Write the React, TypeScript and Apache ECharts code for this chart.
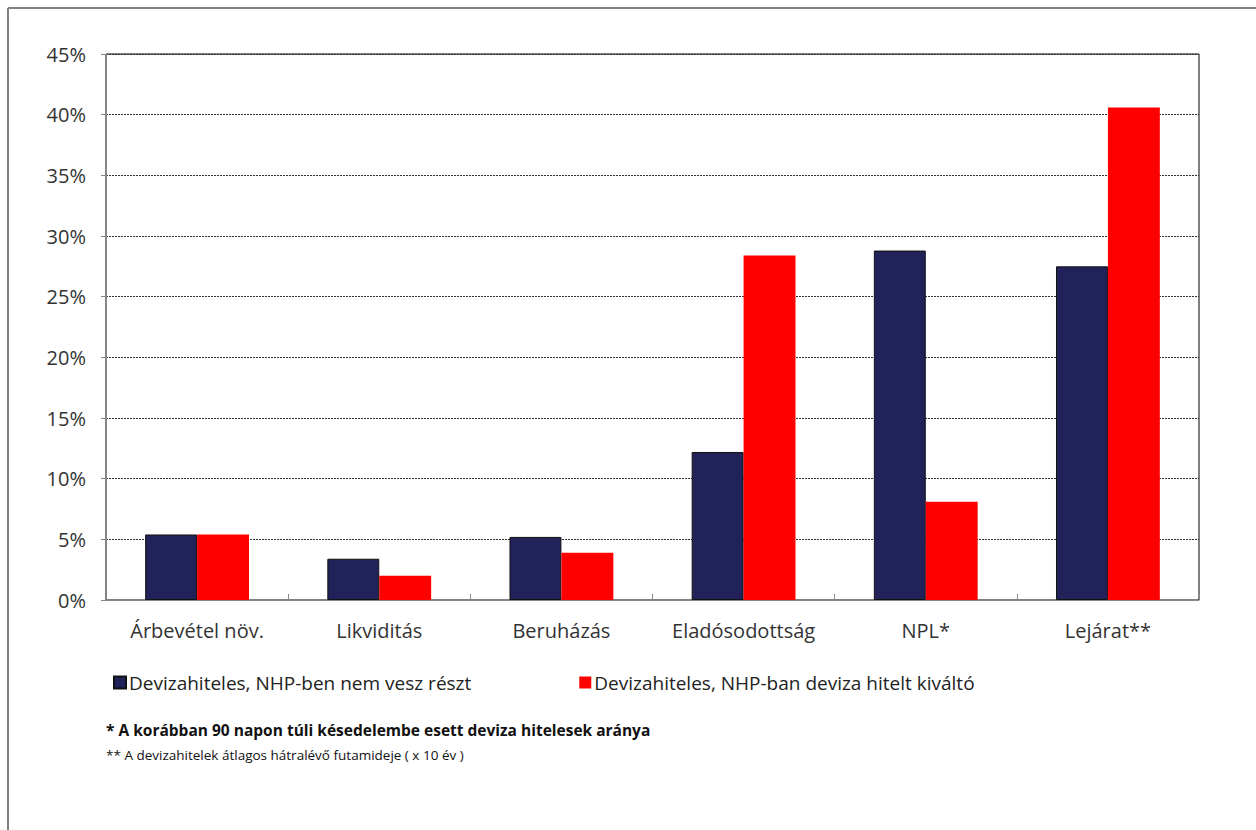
import React, { useEffect, useRef } from "react";
import * as echarts from "echarts";

const categories = ["Árbevétel növ.", "Likviditás", "Beruházás", "Eladósodottság", "NPL*", "Lejárat**"];
const seriesNames = ["Devizahiteles, NHP-ben nem vesz részt", "Devizahiteles, NHP-ban deviza hitelt kiváltó"];
const navyValues = [5.4, 3.4, 5.2, 12.2, 28.8, 27.5];
const redValues = [5.4, 2.0, 3.9, 28.4, 8.1, 40.6];
const footnotes = [
  "* A korábban 90 napon túli késedelembe esett deviza hitelesek aránya",
  "** A devizahitelek átlagos hátralévő futamideje ( x 10 év )",
];

const FONT = "'Open Sans', 'Noto Sans', sans-serif";

export default function App() {
  const ref = useRef<HTMLDivElement>(null);
  useEffect(() => {
    if (!ref.current) return;
    const chart = echarts.init(ref.current, null, { renderer: "svg" });
    chart.setOption({
      animation: false,
      backgroundColor: "#ffffff",
      grid: {
        left: 106,
        right: 57,
        top: 54,
        bottom: 230,
        show: true,
        borderColor: "#000000",
        borderWidth: 1,
        containLabel: false,
      },
      legend: {
        left: 108,
        top: 668,
        itemWidth: 12,
        itemHeight: 12,
        itemGap: 108,
        icon: "rect",
        textStyle: { fontFamily: FONT, fontSize: 19, color: "#222", padding: [0, 0, 0, -2] },
        data: seriesNames,
      },
      xAxis: {
        type: "category",
        data: categories,
        axisLine: { lineStyle: { color: "#888", width: 1 } },
        axisTick: { show: true, inside: true, length: 6, lineStyle: { color: "#888" } },
        axisLabel: { fontFamily: FONT, fontSize: 20, color: "#333", margin: 20, interval: 0 },
      },
      yAxis: {
        type: "value",
        min: 0,
        max: 45,
        interval: 5,
        axisLine: { show: true, lineStyle: { color: "#888", width: 1 } },
        axisTick: { show: true, length: 5, lineStyle: { color: "#888" } },
        axisLabel: {
          fontFamily: FONT,
          fontSize: 20,
          color: "#333",
          margin: 20,
          formatter: (v: number) => v + "%",
        },
        splitLine: { show: true, lineStyle: { color: "#333", type: [2, 1], width: 1 } },
      },
      series: [
        {
          name: seriesNames[0],
          type: "bar",
          data: navyValues,
          barGap: "0%",
          barCategoryGap: "43%",
          itemStyle: { color: "#22225a", borderColor: "#111", borderWidth: 1 },
        },
        {
          name: seriesNames[1],
          type: "bar",
          data: redValues,
          barGap: "0%",
          barCategoryGap: "43%",
          itemStyle: { color: "#ff0000" },
        },
      ],
      graphic: [
        { type: "line", shape: { x1: 8, y1: 8, x2: 1256, y2: 8 }, style: { stroke: "#808080", lineWidth: 2 } },
        { type: "line", shape: { x1: 8, y1: 8, x2: 8, y2: 830 }, style: { stroke: "#808080", lineWidth: 2 } },
        {
          type: "text",
          left: 106,
          top: 722,
          style: { text: footnotes[0], fontFamily: FONT, fontSize: 15.5, fontWeight: "bold", fill: "#111" },
        },
        {
          type: "text",
          left: 106,
          top: 748,
          style: { text: footnotes[1], fontFamily: FONT, fontSize: 13.5, fill: "#111" },
        },
      ],
    });
    return () => chart.dispose();
  }, []);
  return (
    <div
      ref={ref}
      style={{ position: "fixed", left: 0, top: 0, width: 1256, height: 830 }}
    />
  );
}
